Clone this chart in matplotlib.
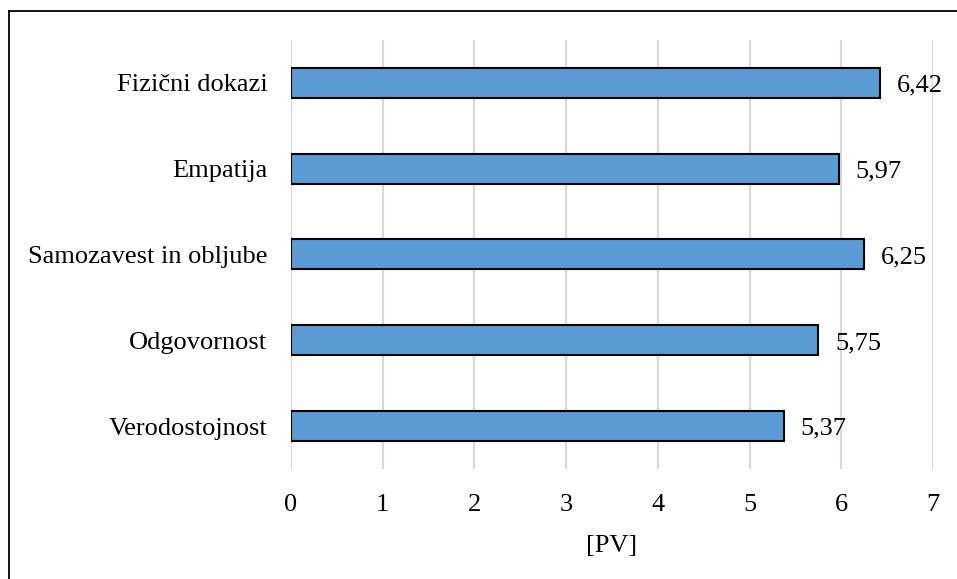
import matplotlib.pyplot as plt
from matplotlib.lines import Line2D

categories = ['Verodostojnost', 'Odgovornost', 'Samozavest in obljube', 'Empatija', 'Fizični dokazi']
values = [5.37, 5.75, 6.25, 5.97, 6.42]
value_labels = ['5,37', '5,75', '6,25', '5,97', '6,42']
x_ticks = [0, 1, 2, 3, 4, 5, 6, 7]

plt.rcParams['font.family'] = ['Liberation Serif', 'DejaVu Serif']

fig = plt.figure(figsize=(9.57, 5.79), dpi=100)
ax = fig.add_axes([0.304, 0.19, 0.671, 0.741])

bars = ax.barh(range(len(categories)), values, height=0.35, color='#5B9BD5',
               edgecolor='black', linewidth=1.5, zorder=3)

for bar, lab in zip(bars, value_labels):
    ax.annotate(lab, (bar.get_width(), bar.get_y() + bar.get_height() / 2),
                xytext=(12, -2), textcoords='offset points', va='center', ha='left',
                fontsize=19)

ax.set_yticks(range(len(categories)))
ax.set_yticklabels(categories, fontsize=19)
ax.set_xticks(x_ticks)
ax.set_xticklabels([str(t) for t in x_ticks], fontsize=19)
ax.set_xlim(0, 7)
ax.set_ylim(-0.5, len(categories) - 0.5)
ax.tick_params(axis='both', length=0)
ax.tick_params(axis='y', pad=17)
ax.tick_params(axis='x', pad=18)
ax.set_xlabel('[PV]', fontsize=19, labelpad=14)
ax.grid(axis='x', color='#d9d9d9', linewidth=1.5, zorder=0)
for s in ax.spines.values():
    s.set_visible(False)

# outer frame (right/bottom edges cut off in original)
fig.add_artist(Line2D([9 / 957, 9 / 957], [0, 1 - 11 / 579], color='black', linewidth=1.3, transform=fig.transFigure))
fig.add_artist(Line2D([9 / 957, 1], [1 - 11 / 579, 1 - 11 / 579], color='black', linewidth=1.3, transform=fig.transFigure))

plt.savefig('out.png', dpi=100)
